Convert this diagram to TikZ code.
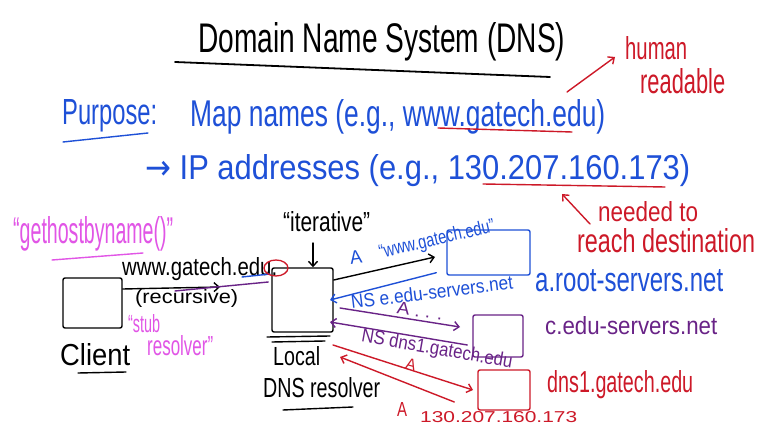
\documentclass[tikz,border=0pt]{standalone}
\usepackage{fontspec}
\setmainfont{Liberation Sans}
\newfontfamily\symfont{DejaVu Sans}
\usetikzlibrary{arrows.meta,shapes.geometric}
\definecolor{hblue}{RGB}{30,80,215}
\definecolor{hred}{RGB}{205,25,40}
\definecolor{hmag}{RGB}{225,85,230}
\definecolor{hpur}{RGB}{105,35,135}
\newcommand\tx[3]{\resizebox{#1pt}{#2pt}{#3}}
\begin{document}
\begin{tikzpicture}[x=1pt,y=-1pt,
  lbl/.style={inner sep=0pt, anchor=base west},
  clbl/.style={inner sep=0pt},
  ink/.style={line width=1.4pt, line cap=round, line join=round},
  arr/.style={ink, -{Straight Barb[length=5pt,width=9pt]}},
  box/.style={draw, line width=1.4pt, inner sep=0pt, rounded corners=2pt}]
\fill[white] (0,0) rectangle (782,427);
\path[use as bounding box] (0,0) rectangle (782,427);

% ---------- heading ----------
\node[lbl] (title) at (198,53) {\tx{367}{30}{Domain Name System (DNS)}};
\coordinate (tu1) at (175,62); \coordinate (tu2) at (550,77);
\draw[ink, line width=1.8pt] (tu1) -- (tu2);

\node[lbl, text=hred] (human) at (625,60) {\tx{62}{23}{human}};
\node[lbl, text=hred] (readable) at (640,94) {\tx{85}{25}{readable}};

\node[lbl, text=hblue] (purpose) at (62,125) {\tx{95}{25}{Purpose:}};
\coordinate (pu1) at (63,142); \coordinate (pu2) at (148,133);
\draw[ink, hblue] (pu1) -- (pu2);

\node[lbl, text=hblue] (map) at (190,127) {\tx{415}{27}{Map names (e.g., www.gatech.edu)}};
\coordinate (wu1) at (438,128); \coordinate (wu2) at (572,132);
\draw[ink, hred] (wu1) -- (wu2);
\coordinate (hr1) at (567,92); \coordinate (hr2) at (615,57);
\draw[arr, hred] (hr1) -- (hr2);

\node[lbl, text=hblue] (ip) at (145,180) {\tx{545}{25}{{\symfont →} IP addresses (e.g., 130.207.160.173)}};
\coordinate (iu1) at (483,184); \coordinate (iu2) at (665,187);
\draw[ink, hred] (iu1) -- (iu2);

\node[lbl, text=hred] (needed) at (598,222) {\tx{100}{20}{needed to}};
\node[lbl, text=hred] (reach) at (577,253) {\tx{178}{24}{reach destination}};
\coordinate (nd1) at (590,224); \coordinate (nd2) at (562,194);
\draw[arr, hred] (nd1) -- (nd2);

% ---------- client side ----------
\node[lbl, text=hmag] (ghbn) at (13,244) {\tx{160}{27}{“gethostbyname()”}};
\coordinate (gu1) at (52,260); \coordinate (gu2) at (143,253);
\draw[ink, hmag] (gu1) -- (gu2);

\node[box, minimum width=59pt, minimum height=50pt] (client) at (92.5,303) {};
\node[lbl] (clientlbl) at (60,366) {\tx{70}{22}{Client}};
\coordinate (cu1) at (78,373); \coordinate (cu2) at (126,372);
\draw[ink] (cu1) -- (cu2);

\node[lbl, text=hmag] (stub) at (128,333) {\tx{32}{18}{“stub}};
\node[lbl, text=hmag] (stubres) at (147,356) {\tx{66}{20}{resolver”}};

\node[lbl] (wwwq) at (122,276) {\tx{155}{18}{www.gatech.edu.}};
\node[lbl] (recur) at (135,304) {\tx{103}{14}{(recursive)}};

\node[box, minimum width=61pt, minimum height=64pt] (res) at (302.5,300) {};
\coordinate (r1a) at (267,337); \coordinate (r1b) at (330,336);
\coordinate (r2a) at (272,342); \coordinate (r2b) at (325,341);
\draw[ink] (r1a) -- (r1b);
\draw[ink] (r2a) -- (r2b);
\node[lbl] (local) at (273,366) {\tx{47}{19}{Local}};
\node[lbl] (dnsres) at (263,398) {\tx{117}{20}{DNS resolver}};
\coordinate (du1) at (283,410); \coordinate (du2) at (353,407);
\draw[ink] (du1) -- (du2);

% client -> resolver
\coordinate (q1end) at (220,287);
\draw[arr] ([yshift=14pt]client.east) -- (q1end);
\coordinate (resp1end) at (175,291);
\draw[ink, hpur] ([xshift=-3pt,yshift=18pt]res.west) -- (resp1end);
\coordinate (bl1) at (242,277); \coordinate (bl2) at (270,274);
\draw[ink, hblue] (bl1) -- (bl2);
\node[draw=hred, ellipse, line width=1.3pt, minimum width=24pt, minimum height=16pt, inner sep=0pt] (dotcirc) at (276,268) {};

\node[lbl] (iter) at (283,232) {\tx{87}{20}{“iterative”}};
\coordinate (it1) at (313,243);
\draw[arr] (it1) -- ([xshift=10.5pt]res.north);

% ---------- servers ----------
\node[box, draw=hblue, minimum width=83pt, minimum height=45pt] (root) at (488.5,252.5) {};
\node[lbl, text=hblue] (rootlbl) at (535,292) {\tx{188}{22}{a.root-servers.net}};

\node[box, draw=hpur, minimum width=50pt, minimum height=42pt] (cedu) at (498,336) {};
\node[lbl, text=hpur] (cedulbl) at (545,335) {\tx{172}{18}{c.edu-servers.net}};

\node[box, draw=hred, minimum width=52pt, minimum height=40pt] (dns1) at (504,390) {};
\node[lbl, text=hred] (dns1lbl) at (547,392) {\tx{146}{22}{dns1.gatech.edu}};

% resolver <-> root
\coordinate (rootin) at (435,257);
\draw[arr] ([yshift=20pt]res.east) -- (rootin);
\node[clbl, text=hblue, rotate=8] (aq) at (356,257) {\tx{12}{13}{A}};
\node[clbl, text=hblue, rotate=13] (aqt) at (437,240) {\tx{118}{14}{“www.gatech.edu”}};
\coordinate (rootret) at (330,300);
\draw[arr, hblue] ([xshift=-10pt,yshift=3pt]root.south west) -- (rootret);
\node[clbl, text=hblue, rotate=7] (nsroot) at (432,292) {\tx{163}{14}{NS e.edu-servers.net}};

% resolver <-> c.edu
\coordinate (ceduin) at (460,327);
\coordinate (ceduout) at (340,308);
\draw[arr, hpur] (ceduout) -- (ceduin);
\node[clbl, text=hpur, rotate=-8] (adots) at (420,311) {\tx{46}{12}{A . . .}};
\coordinate (ceduret) at (330,322);
\draw[arr, hpur] ([xshift=-5pt,yshift=-9pt]cedu.west) -- (ceduret);
\node[clbl, text=hpur, rotate=-10] (nsdns) at (437,350) {\tx{153}{14}{NS dns1.gatech.edu}};

% resolver <-> dns1
\coordinate (dns1in) at (473,390);
\coordinate (dns1out) at (333,345);
\draw[arr, hred] (dns1out) -- (dns1in);
\node[clbl, text=hred, rotate=-15] (adns) at (411,364) {\tx{10}{11}{A}};
\coordinate (dns1ret) at (340,357);
\draw[arr, hred] ([xshift=-23pt,yshift=-12pt]dns1.west) -- (dns1ret);
\node[clbl, text=hred] (aans) at (402,410) {\tx{10}{14}{A}};
\node[lbl, text=hred] (ipans) at (420,423) {\tx{157}{11}{130.207.160.173}};
\end{tikzpicture}
\end{document}
